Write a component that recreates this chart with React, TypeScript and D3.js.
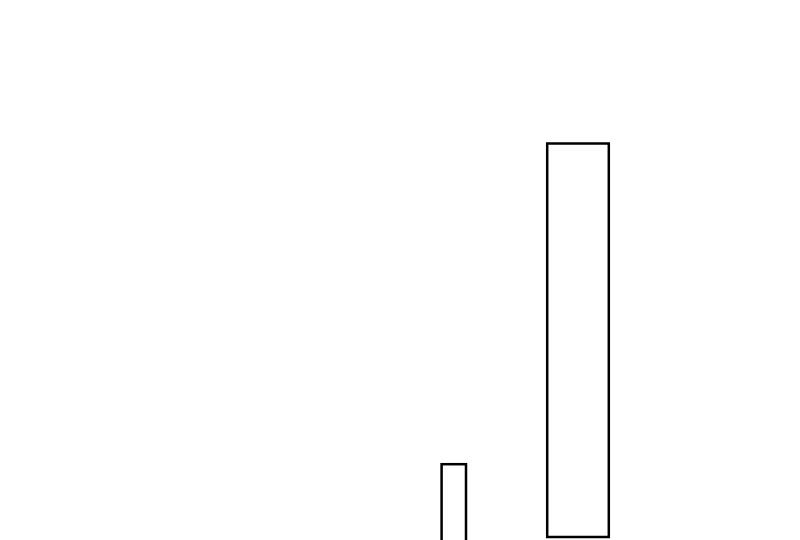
import React from "react";
import * as d3 from "d3";

const categories = ["A", "B"];
const xStart = [55.2, 68.4];
const xEnd = [58.25, 76.1];
const lowValues = [-10, 0];
const highValues = [18.5, 100];

const W = 800;
const H = 540;

export default function App() {
  React.useEffect(() => {
    document.body.style.margin = "0";
  }, []);
  const x = d3.scaleLinear().domain([0, 100]).range([0, W]);
  const y = d3.scaleLinear().domain([0, 100]).range([537, 143.5]);
  return (
    <svg width={W} height={H} style={{ display: "block", background: "#fff" }}>
      {categories.map((c, i) => {
        const x0 = x(xStart[i]);
        const x1 = x(xEnd[i]);
        const y0 = y(highValues[i]);
        const y1 = y(lowValues[i]);
        return (
          <rect
            key={c}
            x={x0}
            y={y0}
            width={x1 - x0}
            height={y1 - y0}
            fill="none"
            stroke="#000"
            strokeWidth={2.5}
          />
        );
      })}
    </svg>
  );
}
